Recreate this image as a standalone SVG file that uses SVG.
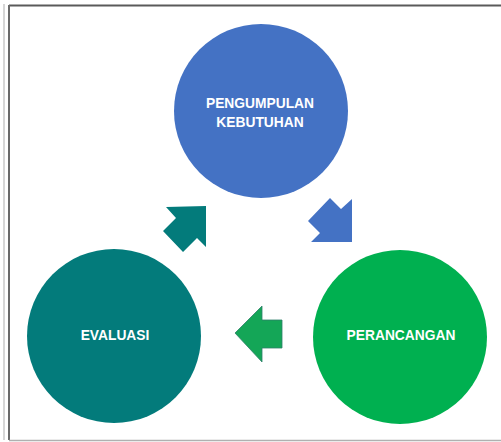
<svg xmlns="http://www.w3.org/2000/svg" width="501" height="442" viewBox="0 0 501 442">
  <style>
    .label { font-family: "Liberation Sans", Arial, sans-serif; font-weight: bold; font-size: 13.8px; fill: #ffffff; text-anchor: middle; }
  </style>
  <rect width="501" height="442" fill="#ffffff"/>
  <!-- frame -->
  <line x1="4" y1="4" x2="4" y2="440" stroke="#c8c8c8" stroke-width="1.5"/>
  <line x1="9" y1="5.5" x2="501" y2="5.5" stroke="#5a5a5a" stroke-width="2"/>
  <line x1="9" y1="5" x2="9" y2="440" stroke="#6a6a6a" stroke-width="2"/>
  <line x1="9" y1="440.5" x2="501" y2="440.5" stroke="#b0b0b0" stroke-width="1.5"/>

  <g id="pengumpulan">
    <circle cx="261" cy="111" r="87" fill="#4472c4"/>
    <text class="label" x="260" y="108">PENGUMPULAN</text>
    <text class="label" x="260" y="127">KEBUTUHAN</text>
  </g>
  <g id="perancangan">
    <circle cx="400" cy="337" r="87" fill="#00b050"/>
    <text class="label" x="401" y="340">PERANCANGAN</text>
  </g>
  <g id="evaluasi">
    <circle cx="114" cy="336" r="87" fill="#037b7b"/>
    <text class="label" x="115" y="340">EVALUASI</text>
  </g>

  <g id="connectors">
    <!-- pengumpulan -> perancangan -->
    <polygon points="330,198 341,209 352,199 352,242 311,242 320,233 308,221" fill="#4472c4"/>
    <!-- perancangan -> evaluasi -->
    <polygon points="282,320 262,320 262,306 235,333 262,362 262,348 282,348" fill="#14a657" stroke="#2f7f6a" stroke-width="0.8"/>
    <!-- evaluasi -> pengumpulan -->
    <polygon points="166,207 206,206 206,247 197,238 183,252 163,231 176,218" fill="#037b7b"/>
  </g>
</svg>
